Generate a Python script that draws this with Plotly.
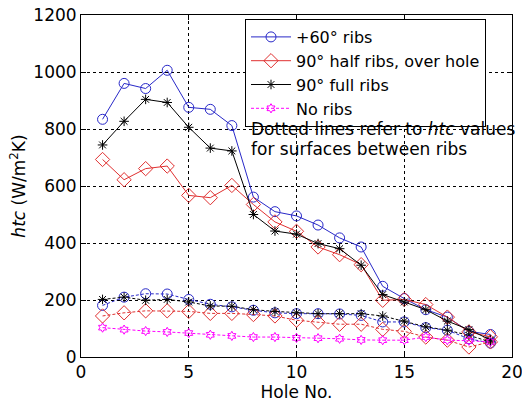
import plotly.graph_objects as go

holes = list(range(1, 20))

rib60 = [834, 960, 942, 1006, 876, 869, 812, 561, 510, 495, 463, 418, 386, 248, 205, 166, 140, 90, 79]
half90 = [693, 622, 661, 670, 567, 559, 602, 535, 474, 441, 386, 359, 324, 199, 202, 184, 140, 88, 71]
full90 = [744, 827, 904, 893, 806, 733, 723, 500, 442, 431, 398, 380, 322, 219, 193, 166, 126, 96, 60]

rib60_between = [181, 210, 222, 221, 202, 185, 176, 164, 155, 152, 152, 151, 146, 123, 123, 103, 94, 64, 49]
half90_between = [144, 155, 162, 162, 160, 153, 153, 149, 144, 129, 122, 115, 115, 97, 90, 70, 59, 35, 53]
full90_between = [202, 210, 199, 202, 193, 179, 178, 166, 160, 155, 152, 152, 152, 144, 126, 106, 94, 76, 53]
noribs = [103, 96, 91, 88, 84, 78, 74, 70, 70, 67, 66, 64, 60, 59, 59, 70, 59, 57, 53]

xticks = [0, 5, 10, 15, 20]
yticks = [0, 200, 400, 600, 800, 1000, 1200]

BLUE = "#2828c8"
RED = "#e03030"
BLACK = "#000000"
MAG = "#ff00ff"
FONT = "DejaVu Sans, Liberation Sans, Arial, sans-serif"

# plot area at x 81..512, y 15..357 of the 522x404 window (body margin removed below)
W, H = 522, 404
ML, MT, MR, MB = 81, 15, 10, 47
PW, PH = W - ML - MR, H - MT - MB

def px(xpage):
    return (xpage - ML) / PW

def py(ypage):
    return (H - MB - ypage) / PH

fig = go.Figure()

def add(y, name, color, symbol, size, dash, show):
    fig.add_trace(go.Scatter(
        x=holes, y=y, name=name, mode="lines+markers",
        line=dict(color=color, width=1, dash=dash),
        marker=dict(symbol=symbol, size=size, color=color,
                    line=dict(color=color, width=1)),
        showlegend=show))

add(rib60_between, "+60° ribs (between)", BLUE, "circle-open", 10, "3px,2px", False)
add(half90_between, "90° half (between)", RED, "diamond-open", 11, "3px,2px", False)
add(full90_between, "90° full (between)", BLACK, "asterisk-open", 8, "3px,2px", False)
add(rib60, "+60° ribs", BLUE, "circle-open", 10, "solid", True)
add(half90, "90° half ribs, over hole", RED, "diamond-open", 11, "solid", True)
add(full90, "90° full ribs", BLACK, "asterisk-open", 8, "solid", True)
add(noribs, "No ribs", MAG, "hexagram-open", 7, "3px,2px", True)

axis_common = dict(
    showline=True, linecolor="black", linewidth=1, mirror="ticks",
    ticks="inside", ticklen=5, tickcolor="black",
    showgrid=True, gridcolor="black", gridwidth=1, griddash="3px,3px",
    zeroline=False, tickfont=dict(size=17, color="black"),
    automargin=False, ticklabeloverflow="allow",
)

fig.update_xaxes(range=[0, 20], tickvals=xticks, **axis_common,
                 title=dict(text="Hole No.", font=dict(size=17, color="black"), standoff=1))
fig.update_yaxes(range=[0, 1200], tickvals=yticks, **axis_common,
                 title=dict(text="<i>htc</i> (W/m<sup>2</sup>K)", font=dict(size=17, color="black"), standoff=3))

for txt, yc in [("Dotted lines refer to <i>htc</i> values", 129),
                ("for surfaces between ribs", 149)]:
    fig.add_annotation(
        xref="paper", yref="paper", x=px(250), y=py(yc),
        xanchor="left", yanchor="middle", text=txt, width=268,
        showarrow=False, align="left", font=dict(size=17, color="black"),
        borderpad=0)

fig.update_layout(
    width=W, height=H,
    margin=dict(l=ML, r=MR, t=MT, b=MB),
    paper_bgcolor="white", plot_bgcolor="white",
    font=dict(family=FONT, color="black"),
    legend=dict(x=px(245), y=py(19), xanchor="left", yanchor="top",
                bgcolor="white", bordercolor="black", borderwidth=1,
                font=dict(size=16, color="black"), itemwidth=40,
                tracegroupgap=0),
)

fig.write_html("out.html", config={"displayModeBar": False},
               post_script="document.body.style.margin='0';document.body.style.overflow='hidden';")
